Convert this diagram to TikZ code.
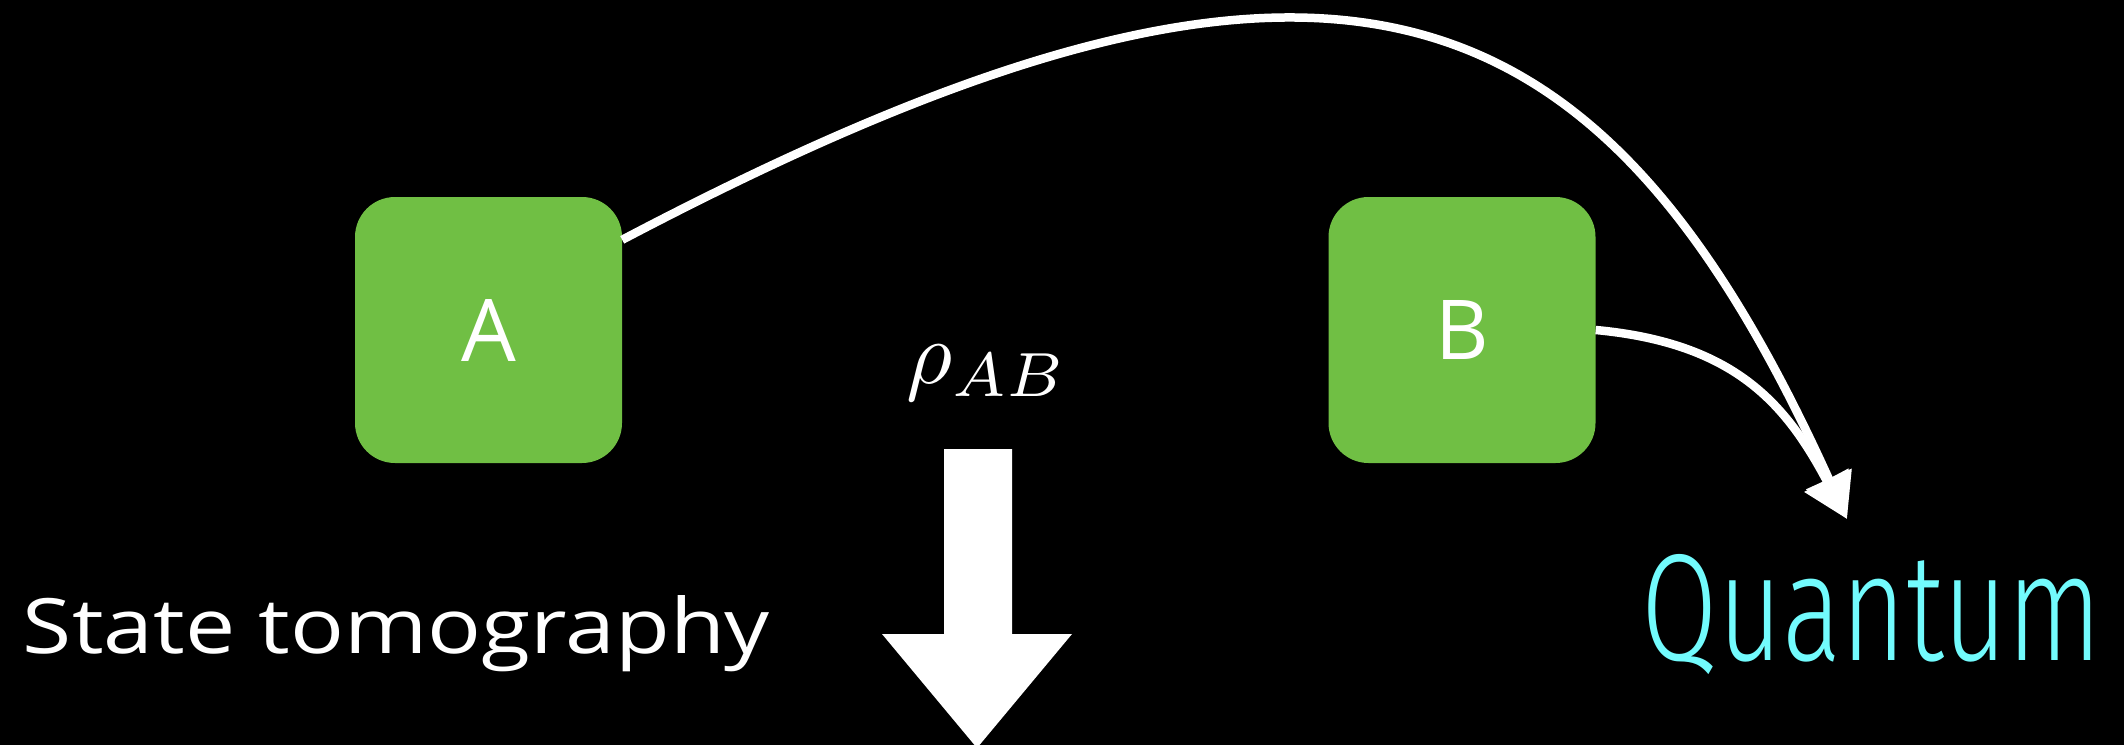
\documentclass[tikz,border=0pt]{standalone}
\usepackage{fontspec}
\usepackage{graphicx}
\setmainfont{Open Sans}
\newfontfamily\qfont{Fira Sans Light}
\usetikzlibrary{arrows.meta}
\definecolor{boxgreen}{RGB}{112,191,68}
\definecolor{qcyan}{RGB}{114,251,253}
\tikzset{
  qbox/.style={fill=boxgreen, rounded corners=40pt, minimum width=267pt, minimum height=266pt, inner sep=0pt, text=white},
  conn/.style={draw=white, line width=8.5pt, -{Triangle[length=44pt,width=48pt]}},
  lbl/.style={inner sep=0pt, anchor=base}
}
\begin{document}
\begin{tikzpicture}[x=1pt,y=-1pt]
\useasboundingbox (0,0) rectangle (2124,744);
\fill[black] (-20,-20) rectangle (2144,764);
\node[qbox] (A) at (488.5,330) {\resizebox{!}{62pt}{A}};
\node[qbox] (B) at (1462,330) {\resizebox{!}{59pt}{B}};
\coordinate (q) at (1847,519);
\draw[conn] (A.34) .. controls (1329,-132) and (1599,-28) .. (q);
\draw[conn] (B.east) .. controls (1735,343) and (1786,404) .. (q);
\node[lbl, text=white] (rho) at (987,383) {\resizebox{161pt}{!}{$\rho_{AB}$}};
\fill[white] (944,449) -- (1012,449) -- (1012,634) -- (1072,634) -- (977,748) -- (882,634) -- (944,634) -- cycle;
\node[lbl, text=white] (st) at (396.5,653) {\resizebox{747pt}{58pt}{State tomography}};
\node[lbl, text=qcyan] (qt) at (1872,660) {\resizebox{460pt}{106pt}{\qfont Quantum}};
\end{tikzpicture}
\end{document}
